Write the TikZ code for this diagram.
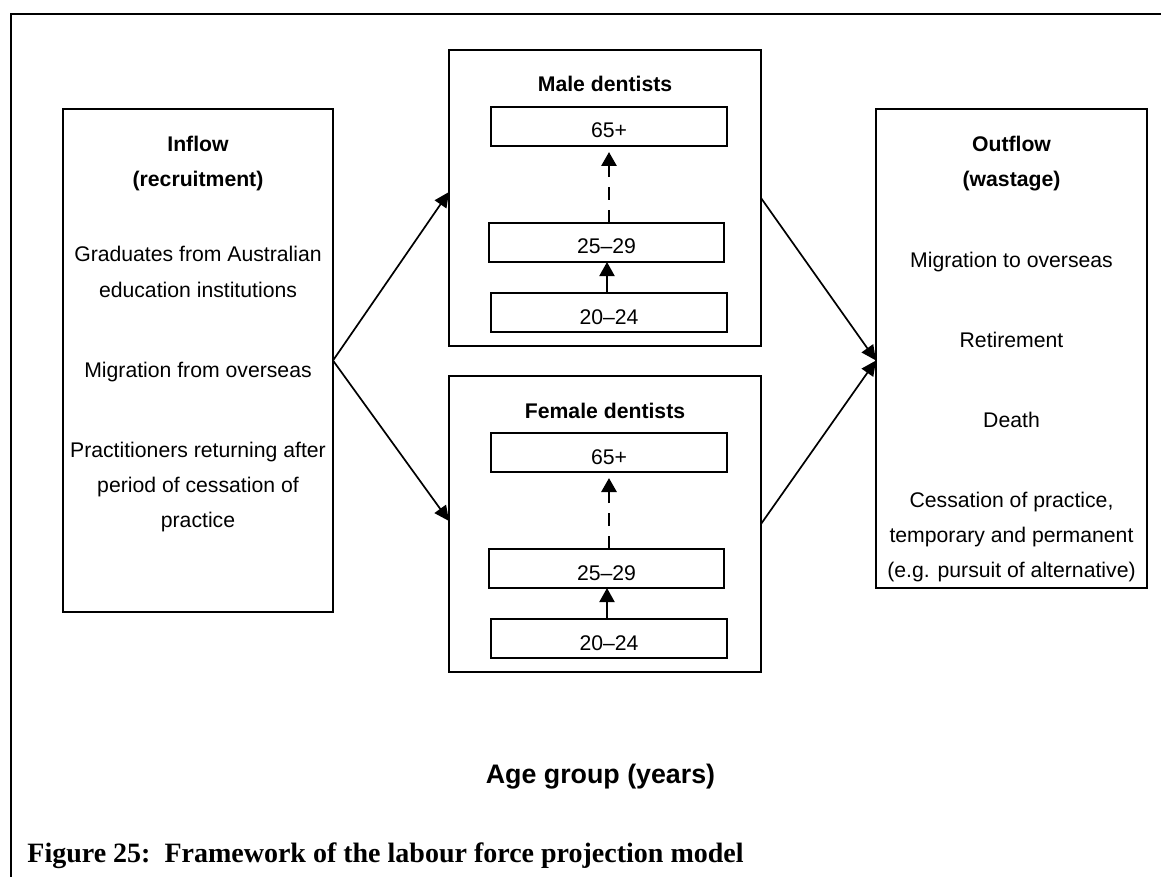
\documentclass[tikz,border=0pt]{standalone}
\usepackage{fontspec}
\setmainfont{Liberation Sans}
\newfontfamily\capfont{Liberation Serif}
\usetikzlibrary{arrows.meta,calc}
\begin{document}
\begin{tikzpicture}[x=0.5pt,y=-0.5pt,
  box/.style={draw, line width=1pt, inner sep=0pt, outer sep=0pt},
  bigbox/.style={box},
  agebox/.style={box, minimum width=118pt, minimum height=19.5pt, text height=11.5pt, text depth=0pt, font=\fontsize{10.6}{12}\selectfont},
  txt/.style={anchor=base, inner sep=0pt, font=\fontsize{10.6}{12}\selectfont},
  btxt/.style={anchor=base, inner sep=0pt, font=\fontsize{10.6}{12}\selectfont\bfseries},
  flow/.style={-{Triangle[length=7.5pt,width=7pt]}, line width=0.85pt},
  upsolid/.style={-{Triangle[length=7pt,width=7.5pt]}, line width=1pt},
  updash/.style={-{Triangle[length=7pt,width=7.5pt]}, line width=1.4pt, dash pattern=on 6.5pt off 5pt, shorten >=3pt},
]
\useasboundingbox (0,0) rectangle (1161,877);
\fill[white] (0,0) rectangle (1161,877);
% frame
\coordinate (fbl) at (11,877);
\coordinate (ftl) at (11,14);
\coordinate (ftr) at (1161,14);
\draw[line width=1.3pt] (fbl) -- (ftl) -- (ftr);

% inflow
\node[bigbox, minimum width=135pt, minimum height=251.5pt] (inflow) at (198,360.5) {};
\node[btxt] (inT1) at (198,152) {Inflow};
\node[btxt] (inT2) at (198,187) {(recruitment)};
\node[txt] (in1a) at (198,262) {Graduates from Australian};
\node[txt] (in1b) at (198,297) {education institutions};
\node[txt] (in2) at (198,377) {Migration from overseas};
\node[txt] (in3a) at (198,457) {Practitioners returning after};
\node[txt] (in3b) at (198,492) {period of cessation of};
\node[txt] (in3c) at (198,527) {practice};

% outflow
\node[bigbox, minimum width=135.5pt, minimum height=239.5pt] (outflow) at (1011.5,348.5) {};
\node[btxt] (outT1) at (1011.5,152) {Outflow};
\node[btxt] (outT2) at (1011.5,187) {(wastage)};
\node[txt] (out1) at (1011.5,267) {Migration to overseas};
\node[txt] (out2) at (1011.5,347) {Retirement};
\node[txt] (out3) at (1011.5,427) {Death};
\node[txt] (out4a) at (1011.5,507) {Cessation of practice,};
\node[txt] (out4b) at (1011.5,542) {temporary and permanent};
\node[txt] (out4c) at (1011.5,577) {(e.g. pursuit of alternative)};

% male
\node[bigbox, minimum width=156pt, minimum height=148pt] (male) at (605,198) {};
\node[btxt] (maleT) at (605,92) {Male dentists};
\node[agebox] (m65) at (609,126.5) {65+};
\node[agebox, minimum width=117.5pt] (m25) at (606.5,242.5) {25--29};
\node[agebox] (m20) at (609,312.5) {20--24};
\draw[updash] (m65.south |- m25.north) -- (m65.south);
\draw[upsolid] (m20.north -| 607,0) -- (m25.south -| 607,0);

% female
\node[bigbox, minimum width=156pt, minimum height=148pt] (female) at (605,524) {};
\node[btxt] (femaleT) at (605,418) {Female dentists};
\node[agebox] (f65) at (609,452.5) {65+};
\node[agebox, minimum width=117.5pt] (f25) at (606.5,568.5) {25--29};
\node[agebox] (f20) at (609,638.5) {20--24};
\draw[updash] (f65.south |- f25.north) -- (f65.south);
\draw[upsolid] (f20.north -| 607,0) -- (f25.south -| 607,0);

% flows
\coordinate (outin) at (outflow.west |- inflow.east);
\draw[flow] (inflow.east) -- ($(male.west)+(0,-6)$);
\draw[flow] (inflow.east) -- ($(female.west)+(0,-3)$);
\draw[flow] (male.east) -- (outin);
\draw[flow] (female.east) -- (outin);

% labels
\node[anchor=base, inner sep=0pt, font=\fontsize{13.4}{15}\selectfont\bfseries] (age) at (600.5,783) {Age group (years)};
\node[anchor=base west, inner sep=0pt, font=\capfont\fontsize{14}{16}\selectfont\bfseries] (cap) at (27,862) {Figure 25:\ \ Framework of the labour force projection model};
\end{tikzpicture}
\end{document}
